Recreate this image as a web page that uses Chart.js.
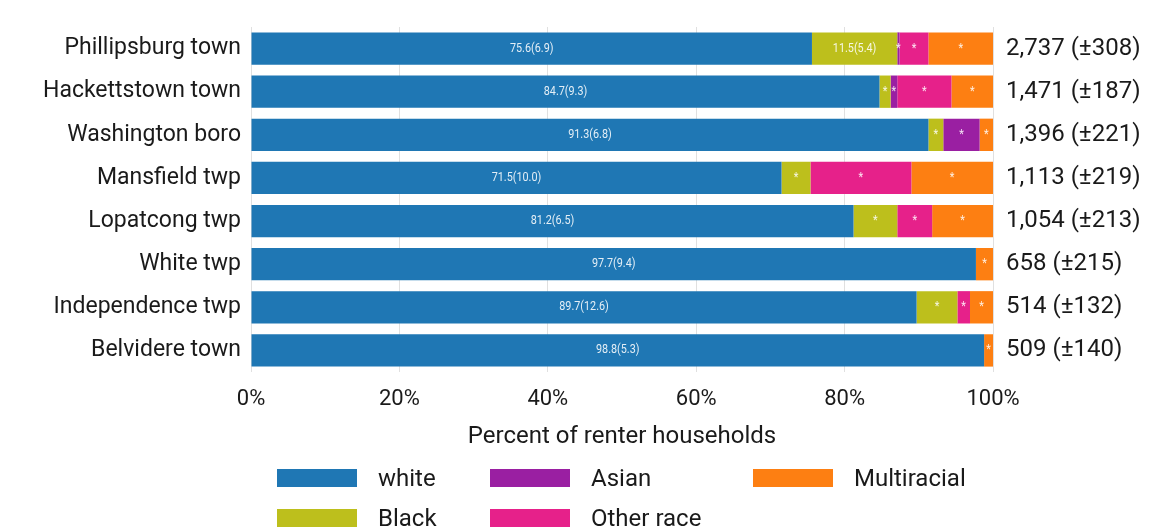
<!DOCTYPE html>
<html>
<head>
<meta charset="utf-8">
<script src="https://cdn.jsdelivr.net/npm/chart.js@4.4.0/dist/chart.umd.min.js"></script>
<style>
  html, body { margin: 0; padding: 0; background: #fff; }
  #wrap { position: relative; width: 1162px; height: 531px; }
  #legend { position: absolute; left: 0; top: 0; width: 1162px; height: 531px; pointer-events: none;
            font-family: Roboto, sans-serif; font-size: 24px; color: #1a1a1a; }
  .item { position: absolute; display: flex; align-items: center; height: 20px; }
  .sw { width: 80px; height: 18px; margin-right: 21px; }
</style>
</head>
<body>
<div id="wrap">
  <canvas id="chart" width="1162" height="531"></canvas>
  <div id="legend"></div>
</div>
<script>
// categories
const places = ["Phillipsburg town", "Hackettstown town", "Washington boro", "Mansfield twp",
                "Lopatcong twp", "White twp", "Independence twp", "Belvidere town"];
const totals = ["2,737 (±308)", "1,471 (±187)", "1,396 (±221)", "1,113 (±219)",
                "1,054 (±213)", "658 (±215)", "514 (±132)", "509 (±140)"];

// percent of renter households by race
const whiteVals = [75.6, 84.7, 91.3, 71.5, 81.2, 97.7, 89.7, 98.8];
const blackVals = [11.5, 1.5, 2.0, 3.9, 5.9, 0, 5.5, 0];
const asianVals = [0.3, 0.9, 4.9, 0, 0, 0, 0, 0];
const otherVals = [3.9, 7.3, 0, 13.6, 4.7, 0, 1.7, 0];
const multiVals = [8.7, 5.6, 1.8, 11.0, 8.2, 2.3, 3.1, 1.2];

// segment labels ("*" = unreliable estimate)
const whiteLabels = ["75.6(6.9)", "84.7(9.3)", "91.3(6.8)", "71.5(10.0)", "81.2(6.5)", "97.7(9.4)", "89.7(12.6)", "98.8(5.3)"];
const blackLabels = ["11.5(5.4)", "*", "*", "*", "*", "", "*", ""];
const asianLabels = ["*", "*", "*", "", "", "", "", ""];
const otherLabels = ["*", "*", "", "*", "*", "", "*", ""];
const multiLabels = ["*", "*", "*", "*", "*", "*", "*", "*"];

const xTicks = [0, 20, 40, 60, 80, 100];

const series = [
  { label: "white", data: whiteVals, labels: whiteLabels, color: "#1f77b4" },
  { label: "Black", data: blackVals, labels: blackLabels, color: "#bdbf1c" },
  { label: "Asian", data: asianVals, labels: asianLabels, color: "#9a1fa2" },
  { label: "Other race", data: otherVals, labels: otherLabels, color: "#e6218a" },
  { label: "Multiracial", data: multiVals, labels: multiLabels, color: "#fd7f12" }
];

// segment labels inside the bars
const segLabels = {
  id: "segLabels",
  afterDatasetsDraw(chart) {
    const ctx = chart.ctx;
    ctx.save();
    ctx.font = "12px Roboto, sans-serif";
    ctx.fillStyle = "rgba(255,255,255,0.88)";
    ctx.textAlign = "center";
    ctx.textBaseline = "middle";
    chart.data.datasets.forEach((ds, di) => {
      chart.getDatasetMeta(di).data.forEach((bar, i) => {
        const txt = ds.segText[i];
        if (!txt || !ds.data[i]) return;
        const left = Math.min(bar.x, bar.base);
        const right = Math.max(bar.x, bar.base);
        const cx = (left + right) / 2;
        // slightly condensed like the original
        ctx.save();
        ctx.translate(cx, bar.y);
        ctx.scale(0.9, 1);
        ctx.fillText(txt, 0, 0);
        ctx.restore();
      });
    });
    ctx.restore();
  }
};

// totals to the right of each bar
const totalLabels = {
  id: "totalLabels",
  afterDraw(chart) {
    const ctx = chart.ctx;
    const y = chart.scales.y;
    ctx.save();
    ctx.font = "24px Roboto, sans-serif";
    ctx.fillStyle = "#1a1a1a";
    ctx.textAlign = "left";
    ctx.textBaseline = "middle";
    totals.forEach((t, i) => {
      ctx.fillText(t, chart.chartArea.right + 13, y.getPixelForValue(i));
    });
    ctx.restore();
  }
};

new Chart(document.getElementById("chart"), {
  type: "bar",
  data: {
    labels: places,
    datasets: series.map((s) => ({
      label: s.label,
      data: s.data,
      segText: s.labels,
      backgroundColor: s.color,
      borderWidth: 0,
      barPercentage: 0.75,
      categoryPercentage: 1
    }))
  },
  options: {
    indexAxis: "y",
    responsive: false,
    animation: false,
    layout: { padding: { top: 27, right: 169, bottom: 80, left: 10 } },
    plugins: { legend: { display: false }, tooltip: { enabled: false } },
    scales: {
      x: {
        stacked: true,
        min: 0,
        max: 100,
        afterBuildTicks: (s) => { s.ticks = xTicks.map((v) => ({ value: v })); },
        afterFit: (s) => { s.height = 79; },
        ticks: {
          padding: 14,
          color: "#1a1a1a",
          font: { family: "Roboto", size: 22 },
          callback: (v) => v + "%"
        },
        grid: { color: "rgba(0,0,0,0.12)", drawTicks: false },
        border: { display: false },
        title: {
          display: true,
          text: "Percent of renter households",
          color: "#1a1a1a",
          font: { family: "Roboto", size: 24 },
          padding: { top: 0, bottom: 0 }
        }
      },
      y: {
        stacked: true,
        afterFit: (s) => { s.width = 241; },
        ticks: { padding: 10, color: "#1a1a1a", font: { family: "Roboto", size: 23 } },
        grid: { display: false, drawTicks: false },
        border: { display: false }
      }
    }
  },
  plugins: [segLabels, totalLabels]
});

// legend, laid out in columns like the original
const legendPos = [[277, 469], [277, 509], [490, 469], [490, 509], [753, 469]];
const legend = document.getElementById("legend");
series.forEach((s, i) => {
  const item = document.createElement("div");
  item.className = "item";
  item.style.left = legendPos[i][0] + "px";
  item.style.top = (legendPos[i][1] - 1) + "px";
  item.innerHTML = `<span class="sw" style="background:${s.color}"></span><span>${s.label}</span>`;
  legend.appendChild(item);
});
</script>
</body>
</html>
